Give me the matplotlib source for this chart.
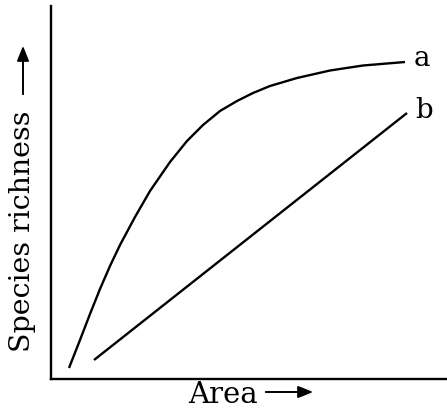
import matplotlib
matplotlib.use("Agg")
import matplotlib.pyplot as plt
from matplotlib.patches import FancyArrowPatch

# Curve a (saturating) and curve b (linear), in arbitrary area/richness units
area_a = [18, 29, 39, 49, 59, 69, 84, 99, 119, 136, 152, 169, 186,
          202, 219, 246, 279, 312, 354]
rich_a = [11, 39, 65, 90, 113, 134, 162, 188, 217, 238, 254, 268, 278,
          286, 293, 301, 308.5, 313.5, 317]
area_b = [43, 356]
rich_b = [19, 266]
labels = ["a", "b"]
xlabel = "Area"
ylabel = "Species richness"

W, H = 447, 413
fig = plt.figure(figsize=(W / 100, H / 100), dpi=100)
left_px, right_px, top_px, bottom_px = 51, 447, 6, 379
ax = fig.add_axes([left_px / W, 1 - bottom_px / H, (right_px - left_px) / W, (bottom_px - top_px) / H])
ax.set_xlim(0, right_px - left_px)
ax.set_ylim(0, bottom_px - top_px)

ax.plot(area_a, rich_a, color="black", lw=1.7, solid_capstyle="butt", solid_joinstyle="round")
ax.plot(area_b, rich_b, color="black", lw=1.7, solid_capstyle="butt")

font = dict(family="DejaVu Serif", color="black")
ax.text(area_a[-1] + 9, rich_a[-1] + 4, labels[0], fontsize=20, ha="left", va="center", **font)
ax.text(area_b[-1] + 8, rich_b[-1] + 2, labels[1], fontsize=20, ha="left", va="center", **font)

for s in ["top", "right"]:
    ax.spines[s].set_visible(False)
for s in ["left", "bottom"]:
    ax.spines[s].set_linewidth(1.7)
ax.set_xticks([])
ax.set_yticks([])

# axis titles with arrows
fig.text(223 / W, 1 - 395 / H, xlabel, fontsize=21, ha="center", va="center", **font)
fig.text(23 / W, 1 - 231 / H, ylabel, fontsize=20.5, rotation=90, ha="center", va="center", **font)
fig.add_artist(FancyArrowPatch((263 / W, 1 - 392 / H), (316 / W, 1 - 392 / H),
               transform=fig.transFigure, arrowstyle="-|>,head_length=6,head_width=2.4",
               color="black", lw=1.4, mutation_scale=1.5))
fig.add_artist(FancyArrowPatch((23 / W, 1 - 97 / H), (23 / W, 1 - 43 / H),
               transform=fig.transFigure, arrowstyle="-|>,head_length=6,head_width=2.4",
               color="black", lw=1.4, mutation_scale=1.5))

fig.savefig("out.png", dpi=100)
